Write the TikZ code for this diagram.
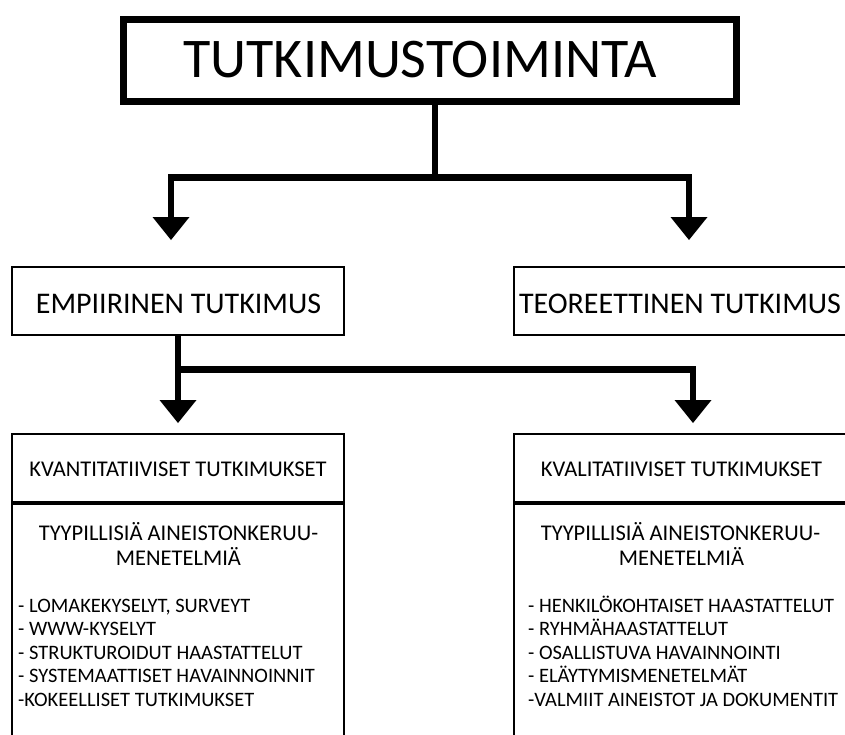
\documentclass[tikz,border=0pt]{standalone}
\usepackage{fontspec}
\setmainfont{Carlito}
\usetikzlibrary{arrows.meta}
\begin{document}
\begin{tikzpicture}[x=1pt,y=-1pt,
  thinbox/.style={draw=black,line width=2pt,inner sep=0pt},
  conn/.style={draw=black,line width=6.5pt,line join=miter},
  tip/.style={-{Triangle[width=37pt,length=23pt,line width=0pt]}},
  bigfont/.style={font=\fontsize{56}{60}\selectfont},
  midfont/.style={font=\fontsize{30}{34}\selectfont},
  headfont/.style={font=\fontsize{22.5}{26}\selectfont},
  listfont/.style={font=\fontsize{20.5}{23.5}\selectfont},
  txt/.style={inner sep=0pt,text=black}
]
\clip (0,0) rectangle (845,734);
\fill[white] (0,0) rectangle (845,734);

% boxes
\node[draw=black,line width=7pt,minimum width=613pt,minimum height=82pt,inner sep=0pt] (top) at (430,60.5) {};
\node[thinbox,minimum width=332pt,minimum height=68pt] (emp) at (178,301) {};
\node[thinbox,minimum width=332pt,minimum height=68pt] (teo) at (680,301) {};
\node[thinbox,minimum width=332pt,minimum height=326pt] (kvan) at (178,597) {};
\node[thinbox,minimum width=332pt,minimum height=326pt] (kval) at (680,597) {};
\coordinate (d1) at (0,503);
\coordinate (d2) at (0,503);
\draw[line width=4.5pt] (kvan.west |- d1) -- (kvan.east |- d1);
\draw[line width=4.5pt] (kval.west |- d2) -- (kval.east |- d2);

% texts
\node[txt,bigfont,anchor=base] (ttop) at (420,77) {TUTKIMUSTOIMINTA};
\node[txt,midfont,anchor=base] (temp) at (178.5,313) {EMPIIRINEN TUTKIMUS};
\node[txt,midfont,anchor=base] (tteo) at (680,313) {TEOREETTINEN TUTKIMUS};
\node[txt,headfont,anchor=base] (hkvan) at (178,476) {KVANTITATIIVISET TUTKIMUKSET};
\node[txt,headfont,anchor=base] (hkval) at (681.5,476) {KVALITATIIVISET TUTKIMUKSET};
\node[txt,headfont,anchor=base] (tya) at (178.5,540) {TYYPILLISIÄ AINEISTONKERUU-};
\node[txt,headfont,anchor=base] (tyb) at (178.5,565) {MENETELMIÄ};
\node[txt,headfont,anchor=base] (tyc) at (680.5,540) {TYYPILLISIÄ AINEISTONKERUU-};
\node[txt,headfont,anchor=base] (tyd) at (681.5,565) {MENETELMIÄ};

\foreach \t [count=\i] in {{- LOMAKEKYSELYT, SURVEYT},{- WWW-KYSELYT},{- STRUKTUROIDUT HAASTATTELUT},{- SYSTEMAATTISET HAVAINNOINNIT},{-KOKEELLISET TUTKIMUKSET}}
  \node[txt,listfont,anchor=base west] (L\i) at (18,{612+23.5*(\i-1)}) {\t};
\foreach \t [count=\i] in {{- HENKILÖKOHTAISET HAASTATTELUT},{- RYHMÄHAASTATTELUT},{- OSALLISTUVA HAVAINNOINTI},{- ELÄYTYMISMENETELMÄT},{-VALMIIT AINEISTOT JA DOKUMENTIT}}
  \node[txt,listfont,anchor=base west] (R\i) at (528,{612+23.5*(\i-1)}) {\t};

% connectors
\coordinate (j1) at (435,177.5);
\coordinate (a1) at (171,240);
\coordinate (a2) at (689,240);
\draw[conn] (top.south -| j1) -- (j1);
\draw[conn,{Triangle[width=37pt,length=23pt,line width=0pt]}-{Triangle[width=37pt,length=23pt,line width=0pt]}] (a1) |- (j1) -| (a2);

\coordinate (j2) at (178,369.5);
\coordinate (a3) at (178,423);
\coordinate (a4) at (693,423);
\draw[conn,tip] (emp.south) -- (a3);
\draw[conn,tip] (j2) -| (a4);
\end{tikzpicture}
\end{document}
